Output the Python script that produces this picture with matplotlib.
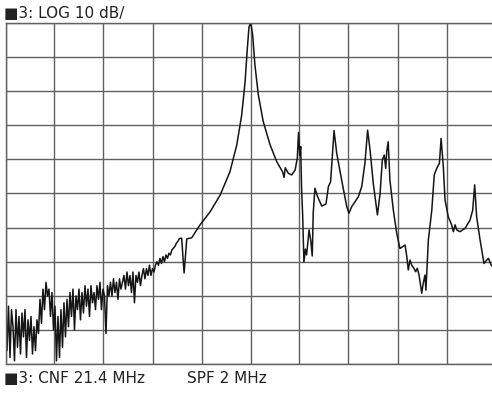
import numpy as np
import matplotlib
matplotlib.use("Agg")
import matplotlib.pyplot as plt

plt.rcParams['font.family'] = ['DejaVu Sans']

# analyzer settings
center_mhz = 21.4
span_mhz = 2.0
ref_db = 0.0
db_per_div = 10

# noisy low-frequency part of the sweep (dB), uniform bins 20.400 .. 21.110 MHz
noise_db = [
    -85, -96, -83, -98, -84,
    -89, -99, -84, -95, -86,
    -97, -85, -92, -84, -98,
    -87, -93, -86, -97,
    -89, -96, -87,
    -91, -81, -88, -78, -84,
    -76, -80,
    -78, -86, -79, -90,
    -83, -99, -86,
    -98, -84, -95,
    -82, -92, -81,
    -89, -79, -86, -78, -90, -80, -84, -78, -87,
    -79, -85, -77, -83, -78, -86, -77, -82, -79, -84, -77,
    -81, -76, -84, -78,
    -80, -91, -77, -80,
    -76, -80, -75, -79, -76, -81, -75, -78, -76,
    -74, -78, -73, -77, -74, -79, -73, -82, -74, -76, -73, -77, -74,
    -72, -75, -72, -74, -71, -74, -72, -73, -71,
    -70, -71, -69, -70.5, -68.5, -70, -68, -69, -67.5, -68, -66.5,
    -66, -65.5, -64.5, -64, -63.2,
]
noise_start_mhz = 20.400
noise_stop_mhz = 21.110

# resonances part of the sweep
peak_mhz = [
    21.119, 21.129, 21.140, 21.160, 21.194, 21.235, 21.276, 21.316, 21.344,
    21.364, 21.378, 21.387, 21.394, 21.401, 21.409, 21.418, 21.432, 21.452,
    21.480, 21.507, 21.531, 21.537, 21.542, 21.554, 21.568, 21.582, 21.591,
    21.596, 21.601, 21.605, 21.608, 21.613, 21.618, 21.624, 21.629, 21.639,
    21.646, 21.652, 21.656, 21.663, 21.673, 21.691, 21.708, 21.718, 21.727,
    21.734, 21.741, 21.752, 21.772, 21.793, 21.802, 21.813, 21.840, 21.854,
    21.867, 21.878, 21.888, 21.901, 21.918, 21.929, 21.938, 21.946, 21.952,
    21.956, 21.962, 21.969, 21.983, 21.997, 22.010, 22.021, 22.031, 22.038,
    22.044, 22.051, 22.058, 22.067, 22.074, 22.081, 22.088, 22.099, 22.105,
    22.112, 22.116, 22.126, 22.140, 22.150, 22.160, 22.171, 22.178, 22.187,
    22.194, 22.207, 22.221, 22.228, 22.235, 22.242, 22.255, 22.276, 22.296,
    22.307, 22.315, 22.323, 22.337, 22.353, 22.364, 22.371, 22.384, 22.398,
]
peak_db = [
    -63.1, -73.3, -63.3, -63.0, -59.2, -55.4, -50.5, -43.7, -35.8,
    -27.1, -17.3, -7.6, -1.2, -0.2, -3.7, -12.4, -21.2, -29.0,
    -35.8, -40.7, -43.7, -45.3, -42.5, -44.1, -44.6, -43.2, -39.7,
    -32.2, -38.8, -36.3, -47.5, -56.6, -70.1, -66.3, -68.0, -60.7,
    -63.9, -68.3, -55.7, -48.5, -50.8, -53.7, -53.1, -48.0, -46.6,
    -39.3, -31.6, -38.3, -46.1, -53.9, -55.8, -53.9, -51.0, -48.0,
    -41.2, -31.5, -37.3, -47.0, -56.3, -50.0, -40.2, -38.8, -42.7,
    -37.8, -34.9, -46.1, -54.9, -61.7, -66.1, -65.6, -65.1, -68.5,
    -72.4, -69.5, -71.0, -71.9, -72.9, -71.9, -73.9, -79.2, -76.3,
    -73.9, -78.3, -63.6, -54.9, -44.6, -42.7, -41.2, -33.9, -42.2,
    -51.9, -56.8, -59.2, -61.2, -59.2, -60.7, -61.2, -60.2, -57.8,
    -54.9, -47.5, -56.8, -63.6, -70.5, -69.5, -69.0, -71.2, -70.9,
]

title_text = "\u25a03: LOG 10 dB/"
footer_left = "\u25a03: CNF 21.4 MHz"
footer_right = "SPF 2 MHz"

noise_mhz = np.linspace(noise_start_mhz, noise_stop_mhz, len(noise_db))
freq = np.concatenate([noise_mhz, peak_mhz])
level = np.concatenate([noise_db, peak_db])

fig = plt.figure(figsize=(4.92, 3.94), dpi=100)
# right edge of the screen grid is cut off by the image border
ax = fig.add_axes([5.5 / 492, 29.7 / 394, 490 / 492, 341.8 / 394])

f_lo = center_mhz - span_mhz / 2
f_hi = center_mhz + span_mhz / 2
ax.set_xlim(f_lo, f_hi)
ax.set_ylim(ref_db - 10 * db_per_div, ref_db)
ax.set_xticks(np.linspace(f_lo, f_hi, 11))
ax.set_yticks(np.arange(ref_db - 10 * db_per_div, ref_db + 1, db_per_div))
ax.grid(True, color='#606060', linewidth=1.0)
ax.tick_params(length=0, labelbottom=False, labelleft=False)
for s in ax.spines.values():
    s.set_color('#606060')
    s.set_linewidth(1.0)

ax.plot(freq, level, color='#151515', linewidth=1.1)

fig.text(4 / 492, 1 - 17.5 / 394, title_text, fontsize=11, color='#222222',
         va='baseline', ha='left')
fig.text(4 / 492, 1 - 383 / 394, footer_left, fontsize=11, color='#222222',
         va='baseline', ha='left')
fig.text(187 / 492, 1 - 383 / 394, footer_right, fontsize=11, color='#222222',
         va='baseline', ha='left')

fig.savefig("out.png", dpi=100)
